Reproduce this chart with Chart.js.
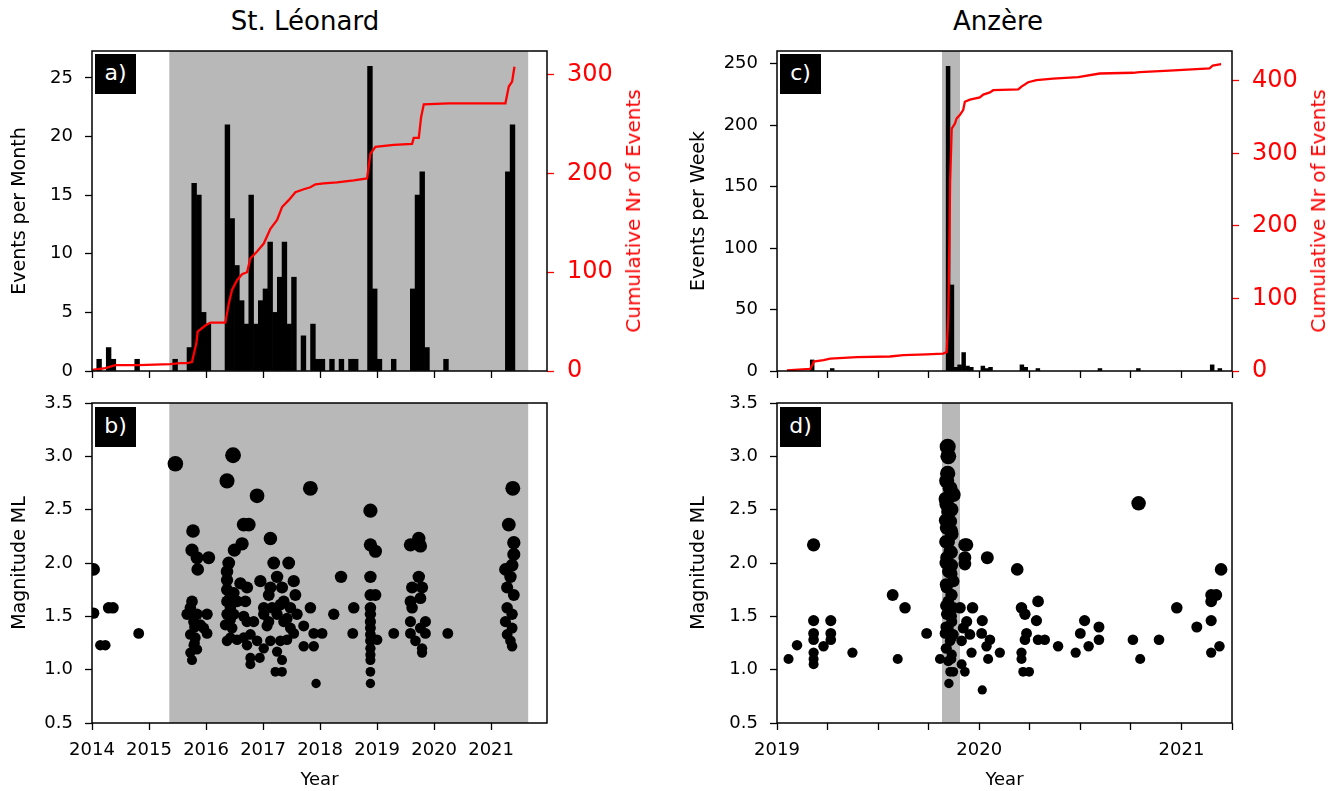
<!DOCTYPE html>
<html>
<head>
<meta charset="utf-8">
<script src="https://cdn.jsdelivr.net/npm/chart.js@4.4.1/dist/chart.umd.min.js"></script>
<style>
  body { margin: 0; background: #fff; }
  #wrap { position: relative; width: 1338px; height: 791px; font-family: 'DejaVu Sans', sans-serif; }
  canvas { position: absolute; }
  .title { position: absolute; top: 6px; font-size: 26px; line-height: 30px; transform: translateX(-50%); white-space: nowrap; }
  .rlab { position: absolute; color: #f00; font-size: 20px; white-space: nowrap; transform: translate(-50%, -50%) rotate(-90deg); }
  .tag { position: absolute; width: 41px; height: 40px; background: #000; color: #fff; font-size: 22px; line-height: 38px; text-align: center; }
</style>
</head>
<body>
<div id="wrap">
  <div class="title" style="left:305px">St. Léonard</div>
  <div class="title" style="left:998px">Anzère</div>
  <canvas id="chartA" width="670" height="390" style="left:0;top:0"></canvas>
  <canvas id="chartB" width="670" height="401" style="left:0;top:390px"></canvas>
  <canvas id="chartC" width="668" height="390" style="left:670px;top:0"></canvas>
  <canvas id="chartD" width="668" height="401" style="left:670px;top:390px"></canvas>
  <div class="rlab" style="left:633px;top:211px">Cumulative Nr of Events</div>
  <div class="rlab" style="left:1318px;top:211px">Cumulative Nr of Events</div>
  <div class="tag" style="left:95px;top:54px">a)</div>
  <div class="tag" style="left:95px;top:407px">b)</div>
  <div class="tag" style="left:780px;top:54px">c)</div>
  <div class="tag" style="left:780px;top:407px">d)</div>
</div>
<script>
// ---- St. Léonard: events per month
const leoMonths = ['2014-02','2014-04','2014-05','2014-10','2015-06','2015-09','2015-10','2015-11','2015-12','2016-01',
  '2016-05','2016-06','2016-07','2016-08','2016-09','2016-10','2016-11','2016-12','2017-01','2017-02','2017-03',
  '2017-04','2017-05','2017-06','2017-07','2017-09','2017-11','2017-12','2018-01','2018-03','2018-05','2018-07',
  '2018-08','2018-11','2018-12','2019-01','2019-04','2019-08','2019-09','2019-10','2019-11','2020-03','2021-04','2021-05'];
const leoCounts = [1,2,1,1,1,2,16,15,5,4,
  21,13,9,6,4,15,4,6,7,11,5,
  8,11,4,8,3,4,1,1,1,1,1,
  1,26,7,1,1,7,15,17,2,1,17,21];

// cumulative number of events (decimal year, count)
const leoCumYears = [2014.000,2014.234,2014.409,2014.819,2015.374,2015.550,2015.667,2015.754,2015.830,2015.854,2015.988,
  2016.076,2016.339,2016.398,2016.456,2016.544,2016.632,2016.719,2016.778,2016.895,2017.012,2017.129,2017.246,2017.333,
  2017.450,2017.567,2017.713,2017.830,2017.918,2018.064,2018.298,2018.591,2018.825,2018.883,2018.971,2019.292,2019.614,
  2019.643,2019.731,2019.772,2019.819,2020.257,2021.251,2021.310,2021.368,2021.409];
const leoCumValues = [1,3,6,6,7,8,8,9,28,40,46,
  49,49,68,82,92,98,100,114,121,129,144,153,166,
  173,181,184,186,189,190,191,193,195,220,227,229,230,
  236,236,257,270,271,271,288,293,308];

// magnitudes (decimal year, ML)
const leoMagYears = [2014.029,2014.029,2014.146,2014.234,2014.292,2014.368,2014.819,2015.462,
  2015.772,2015.754,2015.842,2016.047,2015.854,2015.754,2015.725,2015.667,2016.018,2015.784,2015.842,2015.959,
  2015.725,2016.018,2015.784,2015.725,2015.842,2015.754,2015.901,2015.813,
  2016.474,2016.368,2016.895,2016.661,2016.749,2016.632,2016.497,2016.398,2016.368,2016.368,2016.602,2016.368,
  2016.485,2016.719,2016.368,2016.544,2016.690,2016.368,2016.485,2016.339,2016.456,2016.368,2016.544,2016.719,
  2016.836,2016.778,2016.719,2016.778,2016.778,2016.942,2016.895,2016.953,2017.129,2017.187,2017.450,2017.246,
  2017.129,2017.333,2017.538,2017.567,2017.363,2017.012,2017.158,2017.304,2017.480,2017.012,2017.246,2017.596,
  2017.070,2017.363,2017.480,2017.713,2017.538,2017.129,2017.304,2017.012,2017.246,2017.333,2017.216,2017.333,
  2017.713,2017.830,2017.830,2017.889,2018.035,2017.889,2017.930,2018.240,2018.368,2018.591,2018.573,
  2018.883,2018.883,2018.971,2018.883,2018.883,2018.971,2018.883,2018.883,2018.883,2018.883,2018.883,2018.883,
  2019.000,2018.883,2018.883,2018.883,2018.883,2018.883,2019.292,
  2019.585,2019.731,2019.760,2019.731,2019.614,2019.789,2019.585,2019.760,2019.614,2019.585,2019.848,2019.585,
  2019.760,2019.848,2019.673,2019.789,2019.789,2020.240,
  2021.380,2021.310,2021.398,2021.398,2021.368,2021.251,2021.339,2021.281,2021.398,2021.281,2021.368,2021.251,
  2021.368,2021.281,2021.339,2021.368,
  2016.427,2016.427,2016.427,2016.427,2016.660,2016.660,2017.100,2017.100,2017.420,2017.420,2015.800,2015.800];
const leoMagValues = [1.94,1.53,1.23,1.23,1.58,1.58,1.34,2.93,
  2.30,2.12,2.05,2.05,1.94,1.64,1.58,1.52,1.52,1.45,1.52,1.39,
  1.33,1.34,1.23,1.16,1.19,1.09,1.42,1.30,
  3.01,2.77,2.63,2.36,2.36,2.18,2.12,2.00,1.92,1.84,1.81,1.75,
  1.72,1.77,1.64,1.64,1.64,1.52,1.52,1.42,1.39,1.27,1.28,1.45,
  1.45,1.33,1.23,1.11,1.05,1.11,1.27,1.83,2.23,2.00,2.00,1.87,
  1.77,1.77,1.83,1.70,1.64,1.58,1.58,1.61,1.58,1.52,1.52,1.52,
  1.41,1.45,1.39,1.41,1.34,1.27,1.27,1.20,1.17,1.09,0.98,0.98,
  1.22,1.58,2.70,1.34,1.34,1.22,0.87,1.52,1.87,1.58,1.34,
  2.49,2.17,2.11,1.87,1.70,1.70,1.58,1.52,1.45,1.39,1.33,1.27,
  1.28,1.20,1.14,1.09,0.98,0.87,1.34,
  2.17,2.23,2.16,1.87,1.77,1.77,1.64,1.67,1.58,1.45,1.45,1.34,
  1.39,1.34,1.27,1.20,1.16,1.34,
  2.70,2.36,2.19,2.08,1.98,1.94,1.87,1.77,1.70,1.58,1.52,1.45,
  1.39,1.33,1.27,1.22,
  1.30,1.47,1.58,1.68,1.30,1.50,1.45,1.70,1.48,1.28,1.40,1.25];

// ---- Anzère: events per week
const anzWeeks = [2019.174,2019.273,2019.846,2019.865,2019.884,2019.903,2019.923,2019.942,2019.961,
  2020.018,2020.037,2020.056,2020.211,2020.230,2020.290,2020.597,2020.787,2021.152,2021.190];
const anzCounts = [9,2,248,70,3,5,15,4,3,4,2,3,5,3,2,2,2,5,2];

const anzCumYears = [2019.049,2019.164,2019.178,2019.181,2019.230,2019.263,2019.395,2019.559,2019.625,2019.740,
  2019.822,2019.839,2019.847,2019.852,2019.856,2019.864,2019.880,2019.888,2019.905,2019.921,2019.929,2019.954,
  2020.003,2020.020,2020.053,2020.069,2020.193,2020.209,2020.242,2020.283,2020.365,2020.489,2020.596,2020.760,
  2020.793,2020.941,2021.139,2021.155,2021.196];
const anzCumValues = [1,3,10,13,15,17,19,20,22,23,
  24,26,75,168,260,334,341,348,353,360,371,374,
  377,381,384,387,388,392,398,401,403,405,410,411,
  412,414,417,421,423];

const anzMagYears = [2019.057,2019.099,2019.181,2019.181,2019.181,2019.181,2019.181,2019.181,2019.181,2019.230,
  2019.266,2019.266,2019.266,2019.373,2019.572,2019.633,2019.597,2019.740,2019.806,
  2019.844,2019.847,2019.844,2019.839,2019.856,2019.872,2019.839,2019.847,2019.856,2019.839,2019.864,2019.847,
  2019.856,2019.839,2019.864,2019.847,2019.872,2019.839,2019.864,2019.847,2019.872,2019.839,2019.864,2019.847,
  2019.831,2019.872,2019.856,2019.839,2019.864,2019.847,2019.856,2019.872,2019.850,
  2019.835,2019.835,2019.835,2019.835,2019.835,2019.835,2019.835,2019.835,
  2019.862,2019.862,2019.862,2019.862,2019.862,2019.862,2019.862,2019.862,
  2019.929,2019.938,2019.929,2019.929,2019.905,2019.967,2019.938,2019.921,2019.954,2019.913,2019.962,2019.913,
  2019.929,2020.015,2020.012,2020.053,2020.036,2020.102,2020.044,2020.015,2020.040,2020.188,2020.209,2020.226,
  2020.291,2020.283,2020.234,2020.226,2020.291,2020.324,2020.209,2020.209,2020.217,2020.247,2020.390,2020.477,
  2020.500,2020.521,2020.541,2020.592,2020.592,2020.760,2020.788,2020.796,2020.889,2020.977,2021.076,2021.147,
  2021.172,2021.147,2021.147,2021.147,2021.188,2021.196];
const anzMagValues = [1.10,1.23,2.17,1.46,1.34,1.28,1.16,1.10,1.05,1.22,
  1.46,1.34,1.28,1.16,1.70,1.58,1.10,1.34,1.10,
  3.09,3.00,2.84,2.77,2.70,2.64,2.55,2.48,2.39,2.33,2.27,2.20,
  2.11,2.05,1.98,1.92,1.83,1.77,1.70,1.64,1.58,1.52,1.45,1.39,
  1.34,1.33,1.27,1.20,1.14,1.08,0.98,0.98,0.87,
  2.60,2.40,2.20,2.00,1.80,1.60,1.40,1.20,
  2.50,2.30,2.10,1.90,1.70,1.50,1.30,1.10,
  2.17,2.17,2.05,1.99,1.58,1.58,1.45,1.39,1.33,1.27,1.16,1.05,
  0.98,1.46,1.34,1.28,1.22,1.16,1.10,0.81,2.05,1.94,1.58,1.52,
  1.64,1.46,1.34,1.28,1.28,1.28,1.16,1.10,0.98,0.98,1.22,1.16,
  1.34,1.46,1.22,1.40,1.28,1.28,2.56,1.10,1.28,1.58,1.40,1.70,
  1.70,1.64,1.46,1.16,1.22,1.94];

// axis ticks and shaded periods
const leoYearTicks = [2014, 2015, 2016, 2017, 2018, 2019, 2020, 2021];
const anzQuarterTicks = [2019, 2019.25, 2019.5, 2019.75, 2020, 2020.25, 2020.5, 2020.75, 2021, 2021.25];
const monthTicks = [0, 5, 10, 15, 20, 25];
const weekTicks = [0, 50, 100, 150, 200, 250];
const leoCumTicks = [0, 100, 200, 300];
const anzCumTicks = [0, 100, 200, 300, 400];
const magTicks = [0.5, 1.0, 1.5, 2.0, 2.5, 3.0, 3.5];
const leoShade = [2015.356, 2021.65];
const anzShade = [2019.816, 2019.905];

Chart.defaults.font.family = "'DejaVu Sans', sans-serif";
Chart.defaults.color = '#000';

function decYear(ym) {
  const [y, m] = ym.split('-').map(Number);
  return y + (m - 0.5) / 12;
}
function pairs(xs, ys) {
  return xs.map((x, i) => ({ x: x, y: ys[i] }));
}
function fixedTicks(values) {
  return axis => { axis.ticks = values.map(v => ({ value: v })); };
}
// fixed box size, and no extra label padding so the plot area lands where we want it
function fixSize(key, size) {
  return s => {
    s[key] = size;
    s.paddingTop = s.paddingBottom = s.paddingLeft = s.paddingRight = 0;
  };
}

const framePlugin = {
  id: 'frame',
  afterDraw(chart) {
    const { ctx, chartArea: a } = chart;
    ctx.save();
    ctx.strokeStyle = '#000';
    ctx.lineWidth = 1.5;
    ctx.strokeRect(a.left, a.top, a.right - a.left, a.bottom - a.top);
    ctx.restore();
  }
};
const shadePlugin = {
  id: 'shade',
  beforeDatasetsDraw(chart, args, opts) {
    const { ctx, chartArea: a, scales } = chart;
    const x0 = scales.x.getPixelForValue(opts.range[0]);
    const x1 = scales.x.getPixelForValue(opts.range[1]);
    ctx.save();
    ctx.fillStyle = '#b8b8b8';
    ctx.fillRect(x0, a.top, x1 - x0, a.bottom - a.top);
    ctx.restore();
  }
};

function xAxis(min, max, ticks, showLabels, height) {
  return {
    type: 'linear', min: min, max: max, offset: false,
    afterBuildTicks: fixedTicks(ticks),
    afterFit: fixSize('height', height),
    border: { display: false },
    grid: { drawOnChartArea: false, offset: false, color: '#000', tickLength: 7, tickWidth: 1.3 },
    ticks: {
      display: showLabels, autoSkip: false, maxRotation: 0, padding: 10,
      font: { size: 18 },
      callback: v => Number.isInteger(v) ? String(v) : ''
    },
    title: { display: showLabels, text: 'Year', font: { size: 18 }, padding: { top: 0, bottom: 0 } }
  };
}
function leftAxis(max, ticks, width, label, titlePad, fmt) {
  return {
    position: 'left', min: 0, max: max,
    afterBuildTicks: fixedTicks(ticks),
    afterFit: fixSize('width', width),
    border: { display: false },
    grid: { drawOnChartArea: false, color: '#000', tickLength: 7, tickWidth: 1.3 },
    ticks: { padding: 12, font: { size: 18 }, callback: fmt || (v => String(v)) },
    title: { display: true, text: label, font: { size: 19 }, padding: { top: titlePad, bottom: 0 } }
  };
}
function rightAxis(max, ticks, width) {
  return {
    position: 'right', min: 0, max: max,
    afterBuildTicks: fixedTicks(ticks),
    afterFit: fixSize('width', width),
    border: { display: false },
    grid: { drawOnChartArea: false, color: '#f00', tickLength: 7, tickWidth: 1.3 },
    ticks: { padding: 13, color: '#f00', font: { size: 24 }, callback: v => String(v) }
  };
}
function baseOptions(padding) {
  return {
    responsive: false, animation: false, devicePixelRatio: 1,
    layout: { padding: padding },
    plugins: { legend: { display: false }, tooltip: { enabled: false } }
  };
}
function magRadius(ctx) {
  return 3.4 + 1.5 * ctx.raw.y;
}

// a) St. Léonard events per month + cumulative
const optA = baseOptions({ top: 51 });
optA.plugins.shade = { range: leoShade };
optA.scales = {
  x: xAxis(2014, 2021.98, leoYearTicks, false, 19),
  y: leftAxis(27.3, monthTicks, 92, 'Events per Month', 9),
  y2: rightAxis(324, leoCumTicks, 123)
};
new Chart(document.getElementById('chartA'), {
  type: 'bar',
  data: {
    datasets: [{
      type: 'line', data: pairs(leoCumYears, leoCumValues), yAxisID: 'y2', order: 0,
      borderColor: '#f00', borderWidth: 2.3, pointRadius: 0, tension: 0
    }, {
      data: pairs(leoMonths.map(decYear), leoCounts), yAxisID: 'y', order: 1,
      backgroundColor: '#000', borderWidth: 0, barPercentage: 1, categoryPercentage: 1
    }]
  },
  options: optA,
  plugins: [shadePlugin, framePlugin]
});

// b) St. Léonard magnitudes
const optB = baseOptions({ top: 13, right: 123 });
optB.plugins.shade = { range: leoShade };
optB.scales = {
  x: xAxis(2014, 2021.98, leoYearTicks, true, 68),
  y: leftAxis(3.5, magTicks, 92, 'Magnitude ML', 9, v => v.toFixed(1))
};
optB.scales.y.min = 0.5;
new Chart(document.getElementById('chartB'), {
  type: 'scatter',
  data: {
    datasets: [{
      data: pairs(leoMagYears, leoMagValues),
      backgroundColor: '#000', borderWidth: 0, pointRadius: magRadius
    }]
  },
  options: optB,
  plugins: [shadePlugin, framePlugin]
});

// c) Anzère events per week + cumulative
const optC = baseOptions({ top: 51 });
optC.plugins.shade = { range: anzShade };
optC.scales = {
  x: xAxis(2019, 2021.25, anzQuarterTicks, false, 19),
  y: leftAxis(260.4, weekTicks, 107, 'Events per Week', 18),
  y2: rightAxis(441, anzCumTicks, 106)
};
new Chart(document.getElementById('chartC'), {
  type: 'bar',
  data: {
    datasets: [{
      type: 'line', data: pairs(anzCumYears, anzCumValues), yAxisID: 'y2', order: 0,
      borderColor: '#f00', borderWidth: 2.3, pointRadius: 0, tension: 0
    }, {
      data: pairs(anzWeeks, anzCounts), yAxisID: 'y', order: 1,
      backgroundColor: '#000', borderWidth: 0, barPercentage: 1, categoryPercentage: 1
    }]
  },
  options: optC,
  plugins: [shadePlugin, framePlugin]
});

// d) Anzère magnitudes
const optD = baseOptions({ top: 13, right: 106 });
optD.plugins.shade = { range: anzShade };
optD.scales = {
  x: xAxis(2019, 2021.25, anzQuarterTicks, true, 68),
  y: leftAxis(3.5, magTicks, 107, 'Magnitude ML', 18, v => v.toFixed(1))
};
optD.scales.y.min = 0.5;
new Chart(document.getElementById('chartD'), {
  type: 'scatter',
  data: {
    datasets: [{
      data: pairs(anzMagYears, anzMagValues),
      backgroundColor: '#000', borderWidth: 0, pointRadius: magRadius
    }]
  },
  options: optD,
  plugins: [shadePlugin, framePlugin]
});
</script>
</body>
</html>
